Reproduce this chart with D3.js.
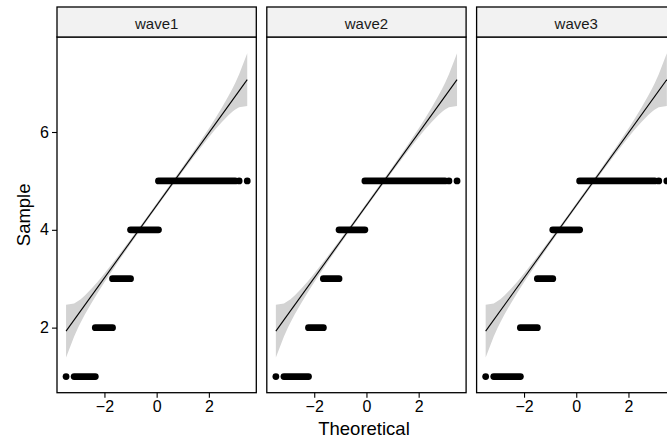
<!DOCTYPE html>
<html>
<head>
<meta charset="utf-8">
<script src="https://cdn.jsdelivr.net/npm/d3@7"></script>
<style>
  html, body { margin: 0; padding: 0; background: #ffffff; }
  svg { display: block; }
  text { font-family: "Liberation Sans", Arial, Helvetica, sans-serif; fill: #000; }
</style>
</head>
<body>
<svg id="chart" width="667" height="441"></svg>
<script>
// Facet labels and sample levels
const panels = ["wave1", "wave2", "wave3"];
const levels = [1, 2, 3, 4, 5];

// Theoretical-quantile extent of each run of tied sample values, per wave
const wave1From = [-3.16, -2.35, -1.69, -1.00, 0.07];
const wave1To   = [-2.35, -1.69, -1.00, 0.07, 3.01];
const wave2From = [-3.16, -2.22, -1.65, -1.05, -0.06];
const wave2To   = [-2.22, -1.65, -1.05, -0.06, 3.01];
const wave3From = [-3.16, -2.14, -1.49, -0.90, 0.13];
const wave3To   = [-2.14, -1.49, -0.90, 0.13, 3.01];

// Sparse tail points (same in every wave)
const tailX = [-3.47, 3.16, 3.47];
const tailY = [1, 5, 5];

// Reference line end points
const lineX = [-3.47, 3.47];
const lineY = [1.928, 7.072];

// Pointwise confidence band
const bandX  = [-3.47, -3.16, -3.01, -2.91, -2.75, -2.5, -2.25, -2.0, -1.5, -1.0, -0.5, 0, 0.5, 1.0, 1.5, 2.0, 2.25, 2.5, 2.75, 2.91, 3.01, 3.16, 3.47];
const bandLo = [1.388, 1.820, 1.996, 2.104, 2.266, 2.501, 2.720, 2.927, 3.325, 3.710, 4.086, 4.459, 4.828, 5.192, 5.549, 5.893, 6.056, 6.207, 6.344, 6.418, 6.458, 6.506, 6.532];
const bandHi = [2.468, 2.494, 2.542, 2.582, 2.656, 2.793, 2.944, 3.107, 3.451, 3.808, 4.172, 4.541, 4.914, 5.290, 5.675, 6.073, 6.280, 6.499, 6.734, 6.896, 7.004, 7.180, 7.612];

// Axis ticks
const xTicks = [-2, 0, 2];
const yTicks = [2, 4, 6];

const runFrom = [wave1From, wave2From, wave3From];
const runTo = [wave1To, wave2To, wave3To];

// Layout
const panelLeft0 = 57, panelW = 199.3, panelGap = 10.5;
const stripTop = 7, stripH = 30;
const panelTop = stripTop + stripH, panelBottom = 392.7;
const tickFont = 16, stripFont = 15, titleFont = 18.5;

// Shared scale domains with 5% expansion
const xMin = d3.min(tailX), xMax = d3.max(tailX);
const xPad = (xMax - xMin) * 0.05;
const yMin = Math.min(d3.min(levels), d3.min(bandLo)), yMax = Math.max(d3.max(levels), d3.max(bandHi));
const yPad = (yMax - yMin) * 0.05;

const y = d3.scaleLinear().domain([yMin - yPad, yMax + yPad]).range([panelBottom, panelTop]);

const svg = d3.select("#chart");
const defs = svg.append("defs");

panels.forEach((name, i) => {
  const left = panelLeft0 + i * (panelW + panelGap);
  const x = d3.scaleLinear().domain([xMin - xPad, xMax + xPad]).range([left, left + panelW]);

  const clipId = "clip" + i;
  defs.append("clipPath").attr("id", clipId)
    .append("rect").attr("x", left).attr("y", panelTop).attr("width", panelW).attr("height", panelBottom - panelTop);

  const g = svg.append("g").attr("clip-path", `url(#${clipId})`);

  // confidence band
  const bandData = bandX.map((v, k) => ({ x: v, lo: bandLo[k], hi: bandHi[k] }));
  g.append("path")
    .datum(bandData)
    .attr("fill", "#d3d3d3")
    .attr("stroke", "none")
    .attr("d", d3.area().x(d => x(d.x)).y0(d => y(d.lo)).y1(d => y(d.hi)));

  // reference line
  g.append("line")
    .attr("x1", x(lineX[0])).attr("y1", y(lineY[0]))
    .attr("x2", x(lineX[1])).attr("y2", y(lineY[1]))
    .attr("stroke", "#000").attr("stroke-width", 1.1);

  // runs of tied sample values
  g.selectAll("line.run")
    .data(levels.map((lv, k) => ({ lv, a: runFrom[i][k], b: runTo[i][k] })))
    .join("line")
    .attr("class", "run")
    .attr("x1", d => x(d.a)).attr("x2", d => x(d.b))
    .attr("y1", d => y(d.lv)).attr("y2", d => y(d.lv))
    .attr("stroke", "#000").attr("stroke-width", 6.8).attr("stroke-linecap", "round");

  // isolated tail points
  g.selectAll("circle.tail")
    .data(tailX.map((v, k) => ({ x: v, y: tailY[k] })))
    .join("circle")
    .attr("class", "tail")
    .attr("cx", d => x(d.x)).attr("cy", d => y(d.y)).attr("r", 3.4)
    .attr("fill", "#000");

  // panel border
  svg.append("rect")
    .attr("x", left).attr("y", panelTop).attr("width", panelW).attr("height", panelBottom - panelTop)
    .attr("fill", "none").attr("stroke", "#000").attr("stroke-width", 1.3);

  // strip
  svg.append("rect")
    .attr("x", left).attr("y", stripTop).attr("width", panelW).attr("height", stripH)
    .attr("fill", "#f2f2f2").attr("stroke", "#000").attr("stroke-width", 1.3);
  svg.append("text")
    .attr("x", left + panelW / 2).attr("y", stripTop + 22)
    .attr("text-anchor", "middle").attr("font-size", stripFont)
    .style("fill", "#1a1a1a")
    .text(name);

  // x axis
  const xa = svg.append("g").attr("transform", `translate(0,${panelBottom})`)
    .call(d3.axisBottom(x).tickValues(xTicks).tickSize(5).tickPadding(3));
  xa.select(".domain").remove();
  xa.selectAll(".tick line").attr("stroke", "#000").attr("stroke-width", 1.1);
  xa.selectAll(".tick text").attr("font-size", tickFont).attr("font-family", null).attr("fill", "#000");

  if (i === 0) {
    const ya = svg.append("g").attr("transform", `translate(${left},0)`)
      .call(d3.axisLeft(y).tickValues(yTicks).tickSize(5).tickPadding(3));
    ya.select(".domain").remove();
    ya.selectAll(".tick line").attr("stroke", "#000").attr("stroke-width", 1.1);
    ya.selectAll(".tick text").attr("font-size", tickFont).attr("font-family", null).attr("fill", "#000");
  }
});

// axis titles
svg.append("text")
  .attr("x", 364).attr("y", 435)
  .attr("text-anchor", "middle").attr("font-size", titleFont)
  .text("Theoretical");
svg.append("text")
  .attr("transform", `translate(29.5,${(panelTop + panelBottom) / 2}) rotate(-90)`)
  .attr("text-anchor", "middle").attr("font-size", titleFont)
  .text("Sample");
</script>
</body>
</html>
